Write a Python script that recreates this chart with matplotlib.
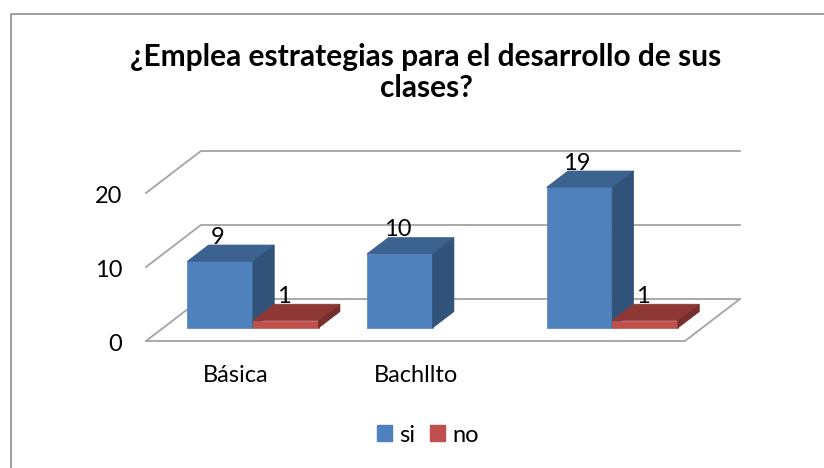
# Grafico de barras 3D (columnas agrupadas) dibujado con polygons oblicuos
import matplotlib
matplotlib.use('Agg')
import matplotlib.pyplot as plt
from matplotlib.patches import Patch
from matplotlib.transforms import ScaledTranslation

plt.rcParams['font.family'] = ['Lato', 'DejaVu Sans']

# datos
categorias = ['Básica', 'Bachllto', '']
si = [9, 10, 19]
no = [1, None, 1]
yticks = [0, 10, 20]
titulo = ['¿Emplea estrategias para el desarrollo de sus', 'clases?']

W, H = 824, 468
fig = plt.figure(figsize=(W / 100, H / 100), dpi=100, facecolor='white')

# ejes: el cero queda en y=341 y el 20 en y=193, de x=146 a x=685
ax = fig.add_axes([146 / W, 1 - 341 / H, 539 / W, 148 / H])
ax.set_xlim(-0.5, 2.5)
ax.set_ylim(0, 20)
ax.patch.set_visible(False)
for s in ax.spines.values():
    s.set_visible(False)

# profundidad del piso en unidades de datos
DX = 55 / 180.0
DY = 42 / 7.4
d0, d1 = 0.31, 0.70   # donde empieza y termina la barra dentro del piso
ancho = 65.8 / 180.0


def p(x, y, d):
    return x + DX * d, y + DY * d


def cara(pts, color):
    xs = [q[0] for q in pts]
    ys = [q[1] for q in pts]
    ax.fill(xs, ys, facecolor=color, edgecolor=color, lw=0.5, clip_on=False, zorder=3)


def barra(x0, v, front, top, side):
    x1 = x0 + ancho
    cara([p(x0, 0, d0), p(x1, 0, d0), p(x1, v, d0), p(x0, v, d0)], front)
    cara([p(x0, v, d0), p(x1, v, d0), p(x1, v, d1), p(x0, v, d1)], top)
    cara([p(x1, 0, d0), p(x1, 0, d1), p(x1, v, d1), p(x1, v, d0)], side)
    # etiqueta de valor
    tx = p(x0 + ancho / 2, v, d0)[0]
    ty = p(x0, v, d1)[1]
    ax.annotate(str(v), (tx, ty), xytext=(-1.5, 1), textcoords='offset points',
                ha='center', va='baseline', fontsize=17, color='black',
                annotation_clip=False, zorder=5)


# rejilla de las paredes
gris = '#A3A3A3'
for v in yticks:
    a = p(-0.5, v, 0)
    b = p(-0.5, v, 1)
    c = p(2.5, v, 1)
    ax.plot([a[0], b[0], c[0]], [a[1], b[1], c[1]], color=gris, lw=1.3, clip_on=False, zorder=1)
# frente y lado derecho del piso
a = p(-0.5, 0, 0)
b = p(2.5, 0, 0)
c = p(2.5, 0, 1)
ax.plot([a[0], b[0], c[0]], [a[1], b[1], c[1]], color=gris, lw=1.3, clip_on=False, zorder=1)

# barras
for i in range(len(categorias)):
    barra(i - ancho, si[i], '#4F81BD', '#3C6290', '#325379')
    if no[i] is not None:
        barra(i, no[i], '#C0504D', '#8E3836', '#772F2D')

# ticks
ax.set_yticks(yticks)
ax.set_yticklabels([str(v) for v in yticks], fontsize=17)
ax.set_xticks(range(len(categorias)))
ax.set_xticklabels(categorias, fontsize=17)
ax.tick_params(axis='y', length=0, pad=17)
ax.tick_params(axis='x', length=0, pad=17)
# bajar un poco los numeros del eje y
baja = ScaledTranslation(0, -1.5 / 100, fig.dpi_scale_trans)
for lab in ax.get_yticklabels():
    lab.set_transform(lab.get_transform() + baja)

fig.text(426 / W, 1 - 57 / H, titulo[0], ha='center', va='center', fontsize=21.5,
         fontweight='bold', color='black')
fig.text(426 / W, 1 - 88 / H, titulo[1], ha='center', va='center', fontsize=21.5,
         fontweight='bold', color='black')

# leyenda
handles = [Patch(color='#4F81BD', label='si'), Patch(color='#C0504D', label='no')]
fig.legend(handles=handles, loc='center', bbox_to_anchor=(428 / W, 1 - 435 / H), ncol=2,
           frameon=False, fontsize=17, handlelength=0.635, handleheight=0.635,
           handletextpad=0.3, columnspacing=0.63)

# marco del grafico
fig.add_artist(plt.Line2D([10.5 / W, 10.5 / W, 1], [0, 1 - 13.5 / H, 1 - 13.5 / H],
                          color='#969696', lw=1.3))

fig.savefig('out.png', dpi=100)
